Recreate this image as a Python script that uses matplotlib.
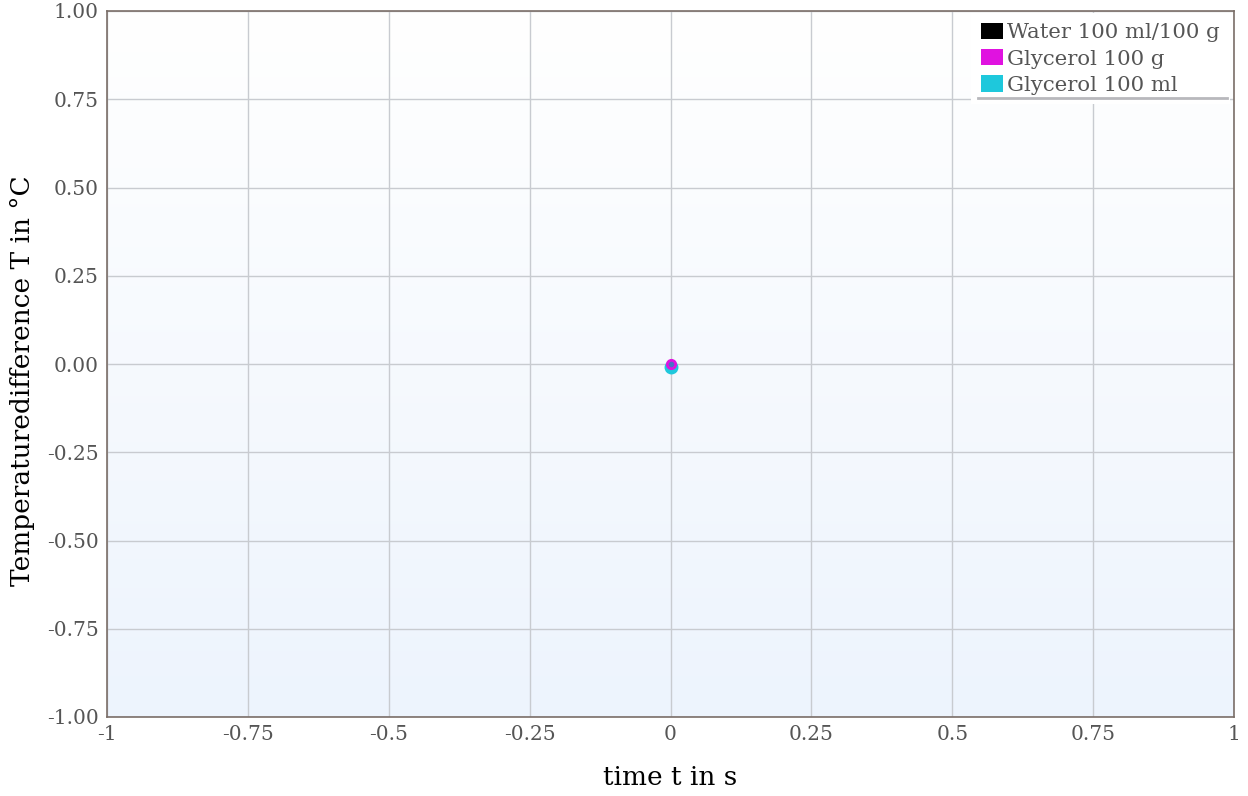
import matplotlib
matplotlib.use("Agg")
import matplotlib.pyplot as plt
import numpy as np
from matplotlib.patches import Patch

series_names = ["Water 100 ml/100 g", "Glycerol 100 g", "Glycerol 100 ml"]
series_colors = ["#000000", "#e012e0", "#1ec8dc"]
t_water = [0.0]
T_water = [0.0]
t_gly_g = [0.0]
T_gly_g = [0.0]
t_gly_ml = [0.0]
T_gly_ml = [-0.008]

x_ticks = [-1, -0.75, -0.5, -0.25, 0, 0.25, 0.5, 0.75, 1]
x_ticklabels = ["-1", "-0.75", "-0.5", "-0.25", "0", "0.25", "0.5", "0.75", "1"]
y_ticks = [-1.0, -0.75, -0.5, -0.25, 0.0, 0.25, 0.5, 0.75, 1.0]
y_ticklabels = ["-1.00", "-0.75", "-0.50", "-0.25", "0.00", "0.25", "0.50", "0.75", "1.00"]

plt.rcParams['font.family'] = ['DejaVu Serif']
fig = plt.figure(figsize=(12.48, 7.96), dpi=100)
ax = fig.add_axes([107/1248, 1-717/796, (1234-107)/1248, (717-11)/796])

# gradient background
grad = np.linspace(0, 1, 256).reshape(-1, 1)
top = np.array([1.0, 1.0, 1.0])
bot = np.array([0xed, 0xf4, 0xfd]) / 255
img = top[None, None, :] * (1 - grad[:, :, None]) + bot[None, None, :] * grad[:, :, None]
ax.imshow(img, extent=[0, 1, 0, 1], transform=ax.transAxes, aspect='auto', zorder=0)

ax.set_xlim(-1, 1)
ax.set_ylim(-1, 1)
ax.set_xticks(x_ticks)
ax.set_xticklabels(x_ticklabels)
ax.set_yticks(y_ticks)
ax.set_yticklabels(y_ticklabels)
ax.grid(True, color="#c8cbd0", linewidth=1, zorder=1)
ax.set_axisbelow(True)
ax.tick_params(length=0, labelsize=14.5, labelcolor="#555555", pad=6)
for s in ax.spines.values():
    s.set_color("#7a6e68")
    s.set_linewidth(1.2)

ax.plot(t_gly_ml, T_gly_ml, 'o', color=series_colors[2], markersize=9, zorder=3)
ax.plot(t_gly_g, T_gly_g, 'o', color=series_colors[1], markersize=7, zorder=4)
ax.plot(t_water, T_water, 'o', color="#4a6fc8", markersize=3, zorder=5)

ax.set_xlabel("time t in s", fontsize=19, labelpad=15)
ax.set_ylabel("Temperaturedifference T in °C", fontsize=19, labelpad=8)
ax.yaxis.set_label_coords(-0.064, (717-381)/706)

handles = [Patch(facecolor=c, edgecolor='none') for c in series_colors]
leg = ax.legend(handles, series_names, loc='upper right', bbox_to_anchor=(0.998, 1.0),
                fontsize=15.3, frameon=True, fancybox=False, handlelength=1.05, handleheight=0.8,
                handletextpad=0.2, labelspacing=0.32, borderpad=0.45, borderaxespad=0.1)
leg.get_frame().set_facecolor('white')
leg.get_frame().set_edgecolor('none')
leg.get_frame().set_alpha(1)
for t in leg.get_texts():
    t.set_color("#555555")
ax.plot([(978-107)/1127, (1227-107)/1127], [(717-98)/706]*2, transform=ax.transAxes,
        color="#b8b8bc", linewidth=2, zorder=10, clip_on=False)

fig.savefig("out.png", dpi=100)
